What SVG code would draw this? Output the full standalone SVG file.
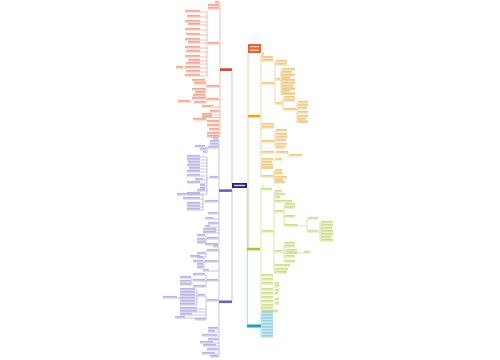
<svg xmlns="http://www.w3.org/2000/svg" width="500" height="360" viewBox="0 0 500 360">
<style>
.ln{fill:none;stroke-width:0.6}
.lr{stroke:#e8957c}.lo{stroke:#e6bb66}.lg{stroke:#bfd474}.lc{stroke:#76c3d8}.lp{stroke:#a39cd4}
.tr rect{fill:#eeaa94}.to rect{fill:#edcc88}.tg rect{fill:#cfdf90}.tc rect{fill:#96cfe2}.tp rect{fill:#bcb6e2}
</style>
<rect width="500" height="360" fill="#ffffff"/>
<g id="connectors">
<path class="ln lr" d="M232 185V71.5"/>
<path class="ln lp" d="M232 187V301"/>
<path class="ln lo" d="M248 53V185M247 185.5H248"/>
<path class="ln lg" d="M248.3 187V248"/>
<path class="ln lc" d="M247.3 188V325"/>
<path class="ln lr" d="M220 3V137M215 3H220M208 6H220M208 9H220M208 44H220M207 87H220M207 100H220M202 107H220M210 112H220M202 115H220M202 117.5H220M207 122H220M207 126H220M209 130H220M207 134H220M207 137H220
M207 12V76M185 12H207M187 17H207M185 22H207M188 25H207M185 30H207M186 35H207M185 40H207M188 43H207M185 48H207M186 52H207M185 57H207M188 61H207M186 64H207M176 68H207M186 72H207M185 76H207
M206 81V93M192 81H206M194 84H206M192 90H206M195 93H206
M206 96V103M193 96H206M192 99H206M194 103H206M178 102H192M193 120H207"/>
<path class="ln lp" d="M219 139V245M213 139H219M210 142H219M210 145H219M207 148H219M207 178H219M203 202H219M208 214H219M205 219H219M208 224H219M205 227H219M203 230H219M203 233H219M206 239H219M205 245H219
M207 147V153M195 147H207M200 150H207M203 153H207
M207 157V194M187 157H207M187 160H207M188 163H207M187 166H207M189 169H207M187 172H207M187 176H207M195 180H207M187 183H207M200 186H207M200 189H207M197 191H207M187 194H207
M203 195V210M177 195H203M183 199H203M187 204H203M187 207H203M187 210H203
M206 236V243M197 236H206M197 240H206M197 243H206"/>
<path class="ln lp" d="M219 247V357M213 247H219M206 251H219M204 262H219M203 271H219M206 281H219M206 301H219M208 329H219M208 332H219M202 336H219M208 340H219M200 343H219M203 346H219M207 350H219M202 354H219M210 357H219
M206 251V257M197 254H206M190 257H206
M204 258V268M197 258H204M193 262H204M197 265H204M197 268H204
M206 275V287M193 275H206M193 281H206M193 287H206
M192 278V285M180 278H192M180 282H192M180 285H192
M206 296V320M198 296H206M180 309H206M180 312H206M180 315H206M175 318H206M195 320H206
M197 290V305M180 290H197M180 293H197M180 296H198M180 299H197M180 302H197M180 305H197M163 298H180"/>
<path class="ln lo" d="M261 55V177M260 116H261M261 55H264M261 58H273M261 61H273M261 84H275M261 125H274M261 128H274M261 142H275M261 153H275M261 160H282M261 163H272M261 166H273M261 168.5H273M261 177H274
M275 62V104M275 62H287M275 65H287M275 80H281M275 104H283
M281 70V94.5M281 70H295M281 73H292M281 76H295M281 78.5H290M281 81H295M281 84H295M281 87H293M281 89.5H295M281 92H290M281 94.5H295
M283 98V110M283 98H295M283 101H295M283 110H297
M297 103V122.5M297 103H308M297 106H308M297 109H307M297 113H308M297 117H308M297 120H306M297 122.5H308
M275 131V148M275 131H287M275 135H287M275 138H287M275 141H286M275 145H287M275 148H285
M275 153H288M288 153V156H302
M274 171V183M274 171H282M274 174H283M274 178H287M274 180.5H283M274 183H285"/>
<path class="ln lg" d="M261 187V312M260 249H261M261 187H263M261 190H272M261 232H274M261 276H273M261 280H273M261 284H279M261 290H273M261 294H278M261 298H273M261 302H273M261 306H273M261 309H273M261 312H278
M273 287H279M273 291H279M273 300H279M273 304H279
M274 192V273M274 192H282M274 195H285M274 198H280M274 202H292M274 212H284M274 252H284M274 266H290M274 270H288M274 273H287
M284 205V226M284 205H295M284 208H295M284 217H295M284 226H307
M307 219V232M307 219H318M307 232H320
M320 223V241M320 223H333M320 226H333M320 229H332M320 232H333M320 235H333M320 238H331M320 241H333
M284 244V262M284 244H295M284 247H295M284 251H297M284 253.5H297M297 253H310M284 257H295M284 262H295"/>
<path class="ln lc" d="M261 313V337M261 313H273M261 316H273M261 319H273M261 322H273M261 325H273M261 328H273M261 331H273M261 334H273M261 337H273"/>
</g>
<g id="title"><rect x="248" y="44" width="13" height="9" fill="#e2653c"/><rect x="250" y="46" width="9" height="1.3" fill="#f8c9b3"/><rect x="250" y="49.5" width="9" height="1.3" fill="#f8c9b3"/></g>
<g id="center"><rect x="232" y="183" width="15" height="5" fill="#272a6b"/><rect x="234" y="184.8" width="11" height="1.4" fill="#c9cbe8"/></g>
<g id="branch-red"><rect x="220" y="68.3" width="12" height="2.6" fill="#d0472b"/></g>
<g id="branch-orange"><rect x="248" y="114.8" width="12" height="2.6" fill="#f3a412"/></g>
<g id="branch-purple-1"><rect x="219" y="189.3" width="13" height="2.6" fill="#6e64b0"/></g>
<g id="branch-green"><rect x="247" y="247.8" width="13" height="2.6" fill="#a5c63b"/></g>
<g id="branch-purple-2"><rect x="219" y="300.5" width="13" height="2.6" fill="#6e64b0"/></g>
<g id="branch-cyan"><rect x="247" y="324.5" width="14" height="3" fill="#1d9ec2"/></g>
<g id="leaves-red" class="tr">
<rect x="215" y="0.9" width="4" height="1.7"/><rect x="208" y="3.9" width="11" height="1.7"/><rect x="208" y="6.9" width="11" height="1.7"/><rect x="208" y="41.9" width="11" height="1.7"/><rect x="207" y="84.9" width="12" height="1.7"/><rect x="207" y="97.9" width="12" height="1.7"/><rect x="202" y="104.9" width="11" height="1.7"/><rect x="210" y="109.9" width="9" height="1.7"/><rect x="202" y="112.9" width="10" height="1.7"/><rect x="202" y="115.4" width="10" height="1.7"/><rect x="207" y="119.9" width="12" height="1.7"/><rect x="207" y="123.9" width="12" height="1.7"/><rect x="209" y="127.9" width="10" height="1.7"/><rect x="207" y="131.9" width="12" height="1.7"/><rect x="207" y="134.9" width="12" height="1.7"/>
<rect x="185" y="9.9" width="15" height="1.7"/><rect x="187" y="14.9" width="13" height="1.7"/><rect x="185" y="19.9" width="15" height="1.7"/><rect x="188" y="22.9" width="12" height="1.7"/><rect x="185" y="27.9" width="15" height="1.7"/><rect x="186" y="32.9" width="14" height="1.7"/><rect x="185" y="37.9" width="15" height="1.7"/><rect x="188" y="40.9" width="12" height="1.7"/><rect x="185" y="45.9" width="15" height="1.7"/><rect x="186" y="49.9" width="14" height="1.7"/><rect x="185" y="54.9" width="15" height="1.7"/><rect x="188" y="58.9" width="12" height="1.7"/><rect x="186" y="61.9" width="14" height="1.7"/><rect x="185" y="65.9" width="15" height="1.7"/><rect x="186" y="69.9" width="14" height="1.7"/><rect x="185" y="73.9" width="15" height="1.7"/><rect x="176" y="65.9" width="7" height="1.7"/>
<rect x="192" y="78.9" width="13" height="1.7"/><rect x="194" y="81.9" width="11" height="1.7"/><rect x="192" y="87.9" width="13" height="1.7"/><rect x="195" y="90.9" width="10" height="1.7"/>
<rect x="193" y="93.9" width="12" height="1.7"/><rect x="192" y="96.9" width="13" height="1.7"/><rect x="194" y="100.9" width="11" height="1.7"/><rect x="178" y="99.9" width="12" height="1.7"/><rect x="193" y="117.9" width="13" height="1.7"/>
</g>
<g id="leaves-purple-1" class="tp">
<rect x="213" y="136.9" width="5" height="1.7"/><rect x="210" y="139.9" width="8" height="1.7"/><rect x="210" y="142.9" width="8" height="1.7"/><rect x="208" y="145.9" width="10" height="1.7"/><rect x="210" y="175.9" width="8" height="1.7"/><rect x="205" y="199.9" width="13" height="1.7"/><rect x="208" y="211.9" width="10" height="1.7"/><rect x="205" y="216.9" width="8" height="1.7"/><rect x="208" y="221.9" width="10" height="1.7"/><rect x="205" y="224.9" width="5" height="1.7"/><rect x="203" y="227.9" width="13" height="1.7"/><rect x="203" y="230.9" width="13" height="1.7"/><rect x="207" y="236.9" width="11" height="1.7"/><rect x="205" y="242.9" width="13" height="1.7"/>
<rect x="195" y="144.9" width="10" height="1.7"/><rect x="200" y="147.9" width="6" height="1.7"/><rect x="203" y="150.9" width="3" height="1.7"/>
<rect x="187" y="154.9" width="13" height="1.7"/><rect x="187" y="157.9" width="13" height="1.7"/><rect x="188" y="160.9" width="12" height="1.7"/><rect x="187" y="163.9" width="13" height="1.7"/><rect x="189" y="166.9" width="11" height="1.7"/><rect x="187" y="169.9" width="13" height="1.7"/><rect x="187" y="173.9" width="13" height="1.7"/><rect x="195" y="177.9" width="8" height="1.7"/><rect x="187" y="180.9" width="13" height="1.7"/><rect x="200" y="183.9" width="5" height="1.7"/><rect x="200" y="186.9" width="5" height="1.7"/><rect x="197" y="188.9" width="8" height="1.7"/><rect x="187" y="191.9" width="13" height="1.7"/>
<rect x="177" y="192.9" width="23" height="1.7"/><rect x="183" y="196.9" width="17" height="1.7"/><rect x="187" y="201.9" width="13" height="1.7"/><rect x="187" y="204.9" width="13" height="1.7"/><rect x="187" y="207.9" width="13" height="1.7"/>
<rect x="197" y="233.9" width="8" height="1.7"/><rect x="197" y="237.9" width="8" height="1.7"/><rect x="197" y="240.9" width="8" height="1.7"/>
</g>
<g id="leaves-purple-2" class="tp">
<rect x="213" y="244.9" width="5" height="1.7"/><rect x="207" y="248.9" width="11" height="1.7"/><rect x="205" y="259.9" width="13" height="1.7"/><rect x="203" y="268.9" width="6" height="1.7"/><rect x="207" y="278.9" width="11" height="1.7"/><rect x="207" y="298.9" width="11" height="1.7"/><rect x="208" y="326.9" width="10" height="1.7"/><rect x="208" y="329.9" width="7" height="1.7"/><rect x="202" y="333.9" width="15" height="1.7"/><rect x="208" y="337.9" width="10" height="1.7"/><rect x="200" y="340.9" width="13" height="1.7"/><rect x="203" y="343.9" width="13" height="1.7"/><rect x="207" y="347.9" width="11" height="1.7"/><rect x="202" y="351.9" width="13" height="1.7"/><rect x="210" y="354.9" width="8" height="1.7"/>
<rect x="197" y="251.9" width="8" height="1.7"/><rect x="190" y="254.9" width="10" height="1.7"/>
<rect x="197" y="255.9" width="6" height="1.7"/><rect x="193" y="259.9" width="10" height="1.7"/><rect x="197" y="262.9" width="6" height="1.7"/><rect x="197" y="265.9" width="6" height="1.7"/>
<rect x="193" y="272.9" width="12" height="1.7"/><rect x="193" y="278.9" width="12" height="1.7"/><rect x="193" y="284.9" width="12" height="1.7"/><rect x="180" y="275.9" width="11" height="1.7"/><rect x="180" y="279.9" width="11" height="1.7"/><rect x="180" y="282.9" width="11" height="1.7"/>
<rect x="198" y="293.9" width="7" height="1.7"/><rect x="180" y="306.9" width="17" height="1.7"/><rect x="180" y="309.9" width="17" height="1.7"/><rect x="180" y="312.9" width="12" height="1.7"/><rect x="175" y="315.9" width="10" height="1.7"/><rect x="195" y="317.9" width="10" height="1.7"/>
<rect x="180" y="287.9" width="15" height="1.7"/><rect x="180" y="290.9" width="15" height="1.7"/><rect x="180" y="293.9" width="15" height="1.7"/><rect x="180" y="296.9" width="15" height="1.7"/><rect x="180" y="299.9" width="15" height="1.7"/><rect x="180" y="302.9" width="15" height="1.7"/><rect x="163" y="295.9" width="14" height="1.7"/>
</g>
<g id="leaves-orange" class="to">
<rect x="262" y="52.9" width="2" height="1.7"/><rect x="262" y="55.9" width="11" height="1.7"/><rect x="262" y="58.9" width="11" height="1.7"/><rect x="262" y="81.9" width="12" height="1.7"/><rect x="262" y="122.9" width="12" height="1.7"/><rect x="262" y="125.9" width="12" height="1.7"/><rect x="262" y="139.9" width="12" height="1.7"/><rect x="262" y="150.9" width="12" height="1.7"/><rect x="262" y="157.9" width="11" height="1.7"/><rect x="262" y="160.9" width="10" height="1.7"/><rect x="262" y="163.9" width="11" height="1.7"/><rect x="262" y="166.4" width="11" height="1.7"/><rect x="262" y="174.9" width="11" height="1.7"/>
<rect x="276" y="59.9" width="11" height="1.7"/><rect x="276" y="62.9" width="11" height="1.7"/><rect x="276" y="77.9" width="4" height="1.7"/><rect x="276" y="101.9" width="6" height="1.7"/>
<rect x="282" y="67.9" width="13" height="1.7"/><rect x="282" y="70.9" width="10" height="1.7"/><rect x="282" y="73.9" width="13" height="1.7"/><rect x="282" y="76.4" width="8" height="1.7"/><rect x="282" y="78.9" width="13" height="1.7"/><rect x="282" y="81.9" width="13" height="1.7"/><rect x="282" y="84.9" width="11" height="1.7"/><rect x="282" y="87.4" width="13" height="1.7"/><rect x="282" y="89.9" width="8" height="1.7"/><rect x="282" y="92.4" width="13" height="1.7"/>
<rect x="284" y="95.9" width="11" height="1.7"/><rect x="284" y="98.9" width="11" height="1.7"/><rect x="284" y="107.9" width="12" height="1.7"/>
<rect x="298" y="100.9" width="10" height="1.7"/><rect x="298" y="103.9" width="10" height="1.7"/><rect x="298" y="106.9" width="9" height="1.7"/><rect x="298" y="110.9" width="10" height="1.7"/><rect x="298" y="114.9" width="10" height="1.7"/><rect x="298" y="117.9" width="8" height="1.7"/><rect x="298" y="120.4" width="10" height="1.7"/>
<rect x="276" y="128.9" width="11" height="1.7"/><rect x="276" y="132.9" width="11" height="1.7"/><rect x="276" y="135.9" width="11" height="1.7"/><rect x="276" y="138.9" width="10" height="1.7"/><rect x="276" y="142.9" width="11" height="1.7"/><rect x="276" y="145.9" width="9" height="1.7"/>
<rect x="276" y="150.9" width="12" height="1.7"/><rect x="290" y="153.9" width="12" height="1.7"/><rect x="275" y="157.9" width="7" height="1.7"/>
<rect x="275" y="168.9" width="7" height="1.7"/><rect x="275" y="171.9" width="8" height="1.7"/><rect x="275" y="175.9" width="12" height="1.7"/><rect x="275" y="178.4" width="8" height="1.7"/><rect x="275" y="180.9" width="10" height="1.7"/>
</g>
<g id="leaves-green" class="tg">
<rect x="262" y="184.9" width="1.5" height="1.7"/><rect x="262" y="187.9" width="10" height="1.7"/><rect x="262" y="229.9" width="11" height="1.7"/><rect x="262" y="273.9" width="11" height="1.7"/><rect x="262" y="277.9" width="11" height="1.7"/><rect x="262" y="281.9" width="11" height="1.7"/><rect x="262" y="287.9" width="11" height="1.7"/><rect x="262" y="291.9" width="11" height="1.7"/><rect x="262" y="295.9" width="11" height="1.7"/><rect x="262" y="299.9" width="11" height="1.7"/><rect x="262" y="303.9" width="11" height="1.7"/><rect x="262" y="306.9" width="11" height="1.7"/><rect x="262" y="309.9" width="16" height="1.7"/>
<rect x="275" y="281.9" width="4" height="1.7"/><rect x="275" y="284.9" width="4" height="1.7"/><rect x="275" y="288.9" width="4" height="1.7"/><rect x="275" y="291.9" width="3" height="1.7"/><rect x="275" y="297.9" width="4" height="1.7"/><rect x="275" y="301.9" width="4" height="1.7"/>
<rect x="275" y="189.9" width="7" height="1.7"/><rect x="275" y="192.9" width="10" height="1.7"/><rect x="275" y="195.9" width="5" height="1.7"/><rect x="275" y="199.9" width="17" height="1.7"/><rect x="275" y="209.9" width="8" height="1.7"/><rect x="275" y="249.9" width="7" height="1.7"/><rect x="275" y="263.9" width="15" height="1.7"/><rect x="275" y="267.9" width="13" height="1.7"/><rect x="275" y="270.9" width="12" height="1.7"/>
<rect x="285" y="202.9" width="10" height="1.7"/><rect x="285" y="205.9" width="10" height="1.7"/><rect x="285" y="214.9" width="10" height="1.7"/><rect x="285" y="223.9" width="13" height="1.7"/>
<rect x="308" y="216.9" width="10" height="1.7"/><rect x="308" y="229.9" width="10" height="1.7"/>
<rect x="321" y="220.9" width="12" height="1.7"/><rect x="321" y="223.9" width="12" height="1.7"/><rect x="321" y="226.9" width="11" height="1.7"/><rect x="321" y="229.9" width="12" height="1.7"/><rect x="321" y="232.9" width="12" height="1.7"/><rect x="321" y="235.9" width="10" height="1.7"/><rect x="321" y="238.9" width="12" height="1.7"/>
<rect x="285" y="241.9" width="10" height="1.7"/><rect x="285" y="244.9" width="10" height="1.7"/><rect x="286" y="248.9" width="11" height="1.7"/><rect x="286" y="251.4" width="11" height="1.7"/><rect x="304" y="250.9" width="6" height="1.7"/><rect x="285" y="254.9" width="10" height="1.7"/><rect x="285" y="259.9" width="10" height="1.7"/>
</g>
<g id="leaves-cyan" class="tc">
<rect x="262" y="310.9" width="11" height="1.7"/><rect x="262" y="313.9" width="11" height="1.7"/><rect x="262" y="316.9" width="11" height="1.7"/><rect x="262" y="319.9" width="11" height="1.7"/><rect x="262" y="322.9" width="11" height="1.7"/><rect x="262" y="325.9" width="11" height="1.7"/><rect x="262" y="328.9" width="11" height="1.7"/><rect x="262" y="331.9" width="11" height="1.7"/><rect x="262" y="334.9" width="11" height="1.7"/>
</g>
</svg>
